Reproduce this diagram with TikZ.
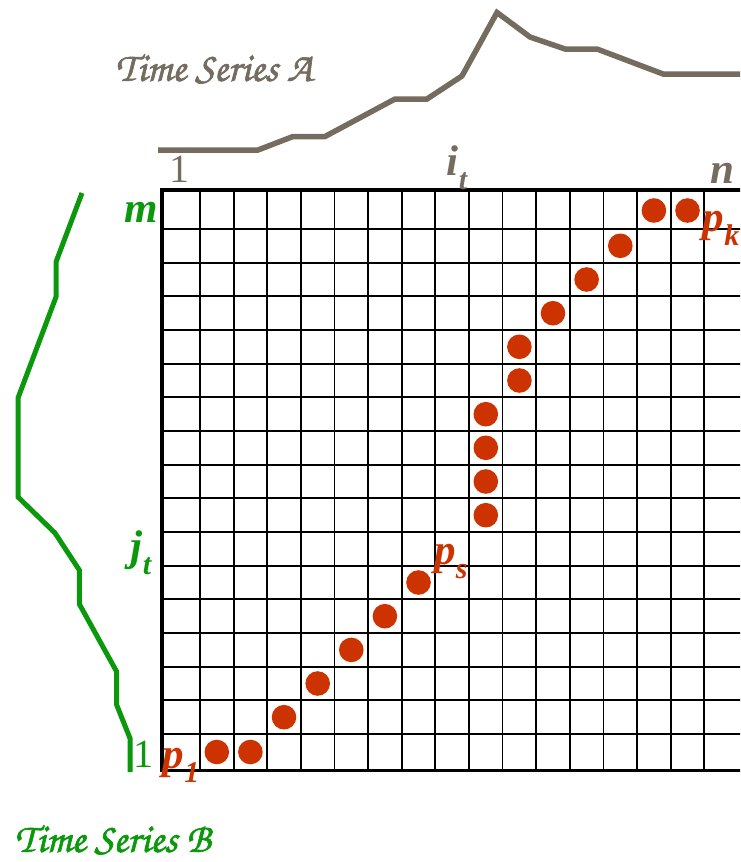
\documentclass[tikz,border=0pt]{standalone}
\usepackage{fontspec}
\setmainfont{Liberation Serif}
\newfontfamily\chorus[FakeBold=1.6]{texgyrechorus-mediumitalic.otf}
\definecolor{tsgray}{RGB}{117,108,96}
\definecolor{tsgreen}{RGB}{12,152,12}
\definecolor{ptred}{RGB}{204,51,0}
\newcommand\bigfs{\fontsize{43}{45}\selectfont}
\newcommand\subfs{\fontsize{30}{31}\selectfont}
\newcommand\lab[2]{{\bigfs\bfseries\itshape #1}\raisebox{-14pt}{\subfs\bfseries\itshape #2}}
\begin{document}
\begin{tikzpicture}[x=1pt,y=-1pt,
  pdot/.style={circle,fill=ptred,inner sep=0pt,minimum size=24.6pt},
  lbl/.style={inner sep=0pt,outer sep=0pt},
  gridthin/.style={line width=1.8pt,black},
  gridborder/.style={line width=3.5pt,black},
  seriesA/.style={tsgray,line width=5.5pt},
  seriesB/.style={tsgreen,line width=5pt},
  scriptlbl/.style={lbl,font=\chorus\fontsize{41}{43}\selectfont}]
\useasboundingbox (0,0) rectangle (740,862);
\clip (0,0) rectangle (740,862);
% grid
\foreach \k in {0,...,15} \draw[gridthin] ({200+33.62*\k},190) -- ({200+33.62*\k},770);
\foreach \k in {0,...,15} \draw[gridthin] (162,{229+33.67*\k}) -- (745,{229+33.67*\k});
\draw[gridborder] (745,190) -- (162,190) -- (162,770.5) -- (745,770.5);
% warping path
\node[pdot] (d1) at (216.8,752) {};
\node[pdot] (d2) at (250.4,752) {};
\node[pdot] (d3) at (284.0,717.2) {};
\node[pdot] (d4) at (317.7,683.5) {};
\node[pdot] (d5) at (351.3,649.9) {};
\node[pdot] (d6) at (384.9,616.2) {};
\node[pdot] (d7) at (418.5,582.5) {};
\node[pdot] (d8) at (485.8,515.2) {};
\node[pdot] (d9) at (485.8,481.5) {};
\node[pdot] (d10) at (485.8,447.8) {};
\node[pdot] (d11) at (485.8,414.2) {};
\node[pdot] (d12) at (519.4,380.5) {};
\node[pdot] (d13) at (519.4,346.8) {};
\node[pdot] (d14) at (553.0,313.2) {};
\node[pdot] (d15) at (586.6,279.5) {};
\node[pdot] (d16) at (620.3,245.8) {};
\node[pdot] (d17) at (653.9,210.5) {};
\node[pdot] (d18) at (687.5,210.5) {};
% time series A
\draw[seriesA] (158,150) -- (258,150) -- (293,136.5) -- (325,136.5) -- (395,99) -- (427,99)
  -- (462,76) -- (497,12.5) -- (530,37) -- (565,49) -- (597,49) -- (663,74) -- (745,74);
% time series B
\draw[seriesB] (82,193) -- (56,262) -- (56,297) -- (18,398) -- (18,497) -- (55,533)
  -- (79.3,570) -- (79.3,604) -- (116.7,671.7) -- (116.7,705) -- (130,738.3) -- (130,772);
% labels
\node[scriptlbl,text=tsgray] (tsa) at (214,69) {Time Series A};
\node[scriptlbl,text=tsgreen] (tsb) at (113,840) {Time Series B};
\node[lbl,text=tsgray,font=\fontsize{40}{40}\selectfont] (onea) at (179,169) {1};
\node[lbl,text=tsgray] (it) at (457,168) {\lab{i}{t}};
\node[lbl,text=tsgray,font=\bigfs\bfseries\itshape] (nlab) at (722,173) {n};
\node[lbl,text=tsgreen,font=\bigfs\bfseries\itshape] (mlab) at (141,212) {m};
\node[lbl,text=tsgreen] (jt) at (141,553) {\lab{j}{t}};
\node[lbl,text=tsgreen,font=\fontsize{40}{40}\selectfont] (oneb) at (143,754) {1};
\node[lbl,text=ptred] (p1) at (181,765) {\lab{p}{1}};
\node[lbl,text=ptred] (ps) at (451,562) {\lab{p}{s}};
\node[lbl,text=ptred] (pk) at (721,228) {\lab{p}{k}};
\end{tikzpicture}
\end{document}
